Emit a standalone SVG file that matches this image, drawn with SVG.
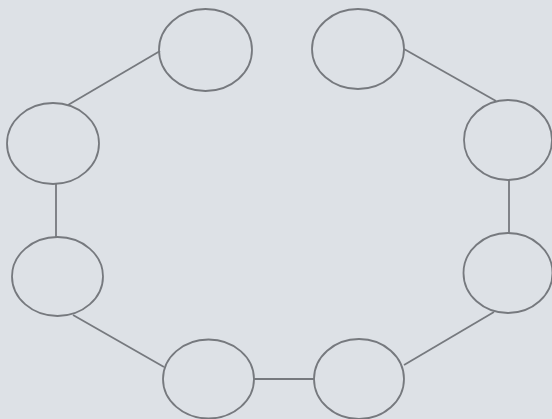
<svg xmlns="http://www.w3.org/2000/svg" width="552" height="419" viewBox="0 0 552 419">
<style>
.n{fill:none;stroke:#76797e;stroke-width:1.8}
.c line{stroke:#76797e;stroke-width:1.8}
</style>
<rect width="552" height="419" fill="#dde1e6"/>
<g class="c" id="connectors">
<line x1="160" y1="51" x2="68" y2="105"/>
<line x1="56" y1="184" x2="56" y2="237"/>
<line x1="73" y1="315" x2="164" y2="367"/>
<line x1="254" y1="379" x2="314" y2="379"/>
<line x1="404" y1="365" x2="494" y2="312"/>
<line x1="509" y1="180" x2="509" y2="233"/>
<line x1="404" y1="49" x2="496" y2="101"/>
</g>
<g id="n1"><ellipse class="n" cx="205.5" cy="50" rx="46.5" ry="41"/></g>
<g id="n2"><ellipse class="n" cx="358" cy="49" rx="46" ry="40"/></g>
<g id="n3"><ellipse class="n" cx="508" cy="140" rx="44" ry="40"/></g>
<g id="n4"><ellipse class="n" cx="508" cy="273" rx="44.5" ry="40"/></g>
<g id="n5"><ellipse class="n" cx="359" cy="379" rx="45" ry="40"/></g>
<g id="n6"><ellipse class="n" cx="208.5" cy="379" rx="45.5" ry="39.5"/></g>
<g id="n7"><ellipse class="n" cx="57.5" cy="276.5" rx="45.5" ry="39.5"/></g>
<g id="n8"><ellipse class="n" cx="53" cy="143.5" rx="46" ry="40.5"/></g>
</svg>
